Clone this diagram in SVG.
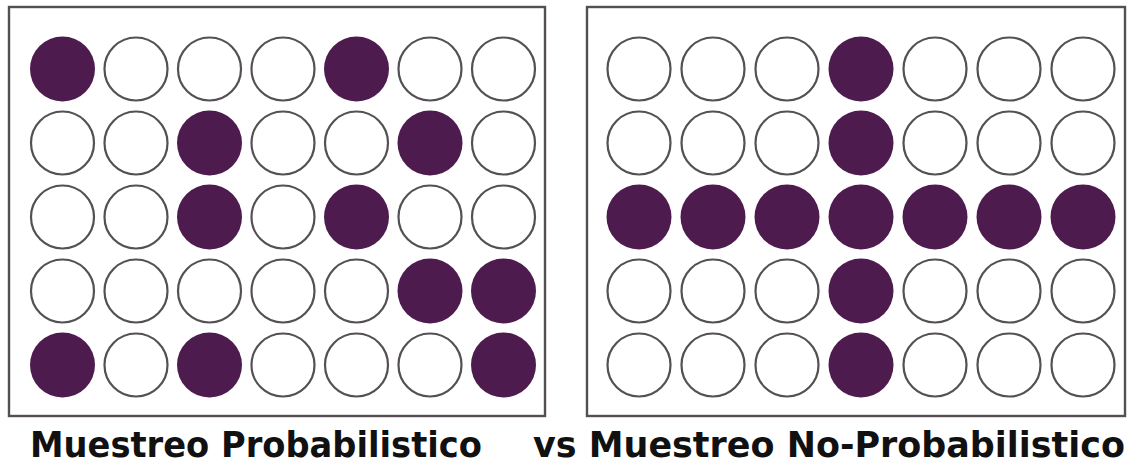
<svg xmlns="http://www.w3.org/2000/svg" width="1140" height="467" viewBox="0 0 1140 467">
<style>
.box{fill:#fff;stroke:#554f54;stroke-width:2.4}
.e{fill:#fff;stroke:#545054;stroke-width:2.2}
.f{fill:#4e1b4f}
.t{font-family:"DejaVu Sans",sans-serif;font-weight:bold;font-size:35px;fill:#111}
</style>
<rect width="1140" height="467" fill="#fff"/>
<g id="left-panel">
<rect class="box" x="9" y="7" width="536" height="409"/>
<circle class="f" cx="62.5" cy="69" r="32.5"/><circle class="e" cx="136" cy="69" r="31.5"/><circle class="e" cx="209.5" cy="69" r="31.5"/><circle class="e" cx="283" cy="69" r="31.5"/><circle class="f" cx="356.5" cy="69" r="32.5"/><circle class="e" cx="430" cy="69" r="31.5"/><circle class="e" cx="503.5" cy="69" r="31.5"/>
<circle class="e" cx="62.5" cy="143" r="31.5"/><circle class="e" cx="136" cy="143" r="31.5"/><circle class="f" cx="209.5" cy="143" r="32.5"/><circle class="e" cx="283" cy="143" r="31.5"/><circle class="e" cx="356.5" cy="143" r="31.5"/><circle class="f" cx="430" cy="143" r="32.5"/><circle class="e" cx="503.5" cy="143" r="31.5"/>
<circle class="e" cx="62.5" cy="217" r="31.5"/><circle class="e" cx="136" cy="217" r="31.5"/><circle class="f" cx="209.5" cy="217" r="32.5"/><circle class="e" cx="283" cy="217" r="31.5"/><circle class="f" cx="356.5" cy="217" r="32.5"/><circle class="e" cx="430" cy="217" r="31.5"/><circle class="e" cx="503.5" cy="217" r="31.5"/>
<circle class="e" cx="62.5" cy="291" r="31.5"/><circle class="e" cx="136" cy="291" r="31.5"/><circle class="e" cx="209.5" cy="291" r="31.5"/><circle class="e" cx="283" cy="291" r="31.5"/><circle class="e" cx="356.5" cy="291" r="31.5"/><circle class="f" cx="430" cy="291" r="32.5"/><circle class="f" cx="503.5" cy="291" r="32.5"/>
<circle class="f" cx="62.5" cy="365" r="32.5"/><circle class="e" cx="136" cy="365" r="31.5"/><circle class="f" cx="209.5" cy="365" r="32.5"/><circle class="e" cx="283" cy="365" r="31.5"/><circle class="e" cx="356.5" cy="365" r="31.5"/><circle class="e" cx="430" cy="365" r="31.5"/><circle class="f" cx="503.5" cy="365" r="32.5"/>
</g>
<g id="right-panel">
<rect class="box" x="587" y="7" width="538" height="409"/>
<circle class="e" cx="639" cy="69" r="31.5"/><circle class="e" cx="713" cy="69" r="31.5"/><circle class="e" cx="787" cy="69" r="31.5"/><circle class="f" cx="861" cy="69" r="32.5"/><circle class="e" cx="935" cy="69" r="31.5"/><circle class="e" cx="1009" cy="69" r="31.5"/><circle class="e" cx="1083" cy="69" r="31.5"/>
<circle class="e" cx="639" cy="143" r="31.5"/><circle class="e" cx="713" cy="143" r="31.5"/><circle class="e" cx="787" cy="143" r="31.5"/><circle class="f" cx="861" cy="143" r="32.5"/><circle class="e" cx="935" cy="143" r="31.5"/><circle class="e" cx="1009" cy="143" r="31.5"/><circle class="e" cx="1083" cy="143" r="31.5"/>
<circle class="f" cx="639" cy="217" r="32.5"/><circle class="f" cx="713" cy="217" r="32.5"/><circle class="f" cx="787" cy="217" r="32.5"/><circle class="f" cx="861" cy="217" r="32.5"/><circle class="f" cx="935" cy="217" r="32.5"/><circle class="f" cx="1009" cy="217" r="32.5"/><circle class="f" cx="1083" cy="217" r="32.5"/>
<circle class="e" cx="639" cy="291" r="31.5"/><circle class="e" cx="713" cy="291" r="31.5"/><circle class="e" cx="787" cy="291" r="31.5"/><circle class="f" cx="861" cy="291" r="32.5"/><circle class="e" cx="935" cy="291" r="31.5"/><circle class="e" cx="1009" cy="291" r="31.5"/><circle class="e" cx="1083" cy="291" r="31.5"/>
<circle class="e" cx="639" cy="365" r="31.5"/><circle class="e" cx="713" cy="365" r="31.5"/><circle class="e" cx="787" cy="365" r="31.5"/><circle class="f" cx="861" cy="365" r="32.5"/><circle class="e" cx="935" cy="365" r="31.5"/><circle class="e" cx="1009" cy="365" r="31.5"/><circle class="e" cx="1083" cy="365" r="31.5"/>
</g>
<g id="labels">
<text class="t" x="30" y="457" textLength="452" lengthAdjust="spacingAndGlyphs">Muestreo Probabilistico</text>
<text class="t" x="533" y="457" textLength="592" lengthAdjust="spacingAndGlyphs">vs Muestreo No-Probabilistico</text>
</g>
</svg>
